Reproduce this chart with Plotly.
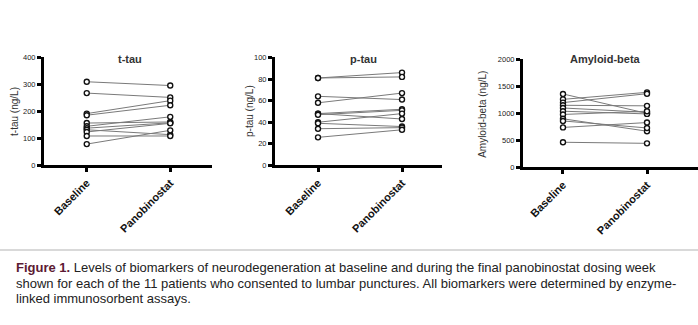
import plotly.graph_objects as go

W, H = 698, 325

categories = ["Baseline", "Panobinostat"]

# t-tau (ng/L), one entry per patient
ttau_baseline = [310, 268, 192, 186, 157, 145, 138, 132, 124, 109, 79]
ttau_panob = [296, 252, 240, 223, 161, 180, 158, 114, 156, 109, 130]

# p-tau (ng/L)
ptau_baseline = [81, 81, 64, 58, 48, 48, 47, 40, 39, 34, 26]
ptau_panob = [86, 82, 61, 67, 52, 43, 51, 48, 36, 35, 33]

# Amyloid-beta (ng/L)
abeta_baseline = [1360, 1260, 1200, 1150, 1100, 1040, 980, 900, 860, 740, 465]
abeta_panob = [1000, 1390, 1365, 1140, 1020, 990, 1040, 670, 730, 830, 445]

panels = [
    dict(title="t-tau", ytitle="t-tau (ng/L)", base=ttau_baseline, post=ttau_panob,
         ymax=400, dtick=100, px=(44, 212), py=(55, 166), xr=(-0.512, 1.5),
         title_x=130, ytitle_x=15, ytitle_y=110),
    dict(title="p-tau", ytitle="p-tau (ng/L)", base=ptau_baseline, post=ptau_panob,
         ymax=100, dtick=20, px=(275, 442), py=(55, 166), xr=(-0.512, 1.476),
         title_x=363, ytitle_x=250, ytitle_y=110),
    dict(title="Amyloid-beta", ytitle="Amyloid-beta (ng/L)", base=abeta_baseline, post=abeta_panob,
         ymax=2000, dtick=500, px=(523, 698), py=(57, 168), xr=(-0.476, 1.607),
         title_x=605, ytitle_x=483, ytitle_y=113),
]

fig = go.Figure()
FONT = "Arial, Liberation Sans, sans-serif"

def fx(p):
    return p / W

def fy(p):
    return 1 - p / H

annotations = []
for i, pnl in enumerate(panels):
    n = "" if i == 0 else str(i + 1)
    xa, ya = "x" + n, "y" + n
    for b, p in zip(pnl["base"], pnl["post"]):
        fig.add_trace(go.Scatter(
            x=[0, 1], y=[b, p], mode="lines+markers", xaxis=xa, yaxis=ya,
            line=dict(color="#7a7a7a", width=1),
            marker=dict(symbol="circle", size=5, color="white",
                        line=dict(color="#111111", width=1.4)),
            showlegend=False, cliponaxis=False, hoverinfo="skip",
        ))
    common = dict(showgrid=False, zeroline=False, showline=True, linecolor="black",
                  linewidth=3, ticks="outside", tickcolor="black")
    fig.update_layout(**{
        "xaxis" + n: dict(domain=[fx(pnl["px"][0]), fx(pnl["px"][1])], range=list(pnl["xr"]),
                          tickvals=[0, 1], ticktext=categories, tickangle=-45,
                          ticklen=4, tickwidth=2.5, anchor=ya,
                          tickfont=dict(family=FONT, size=11, color="#111111", weight="bold"),
                          **common),
        "yaxis" + n: dict(domain=[fy(pnl["py"][1]), fy(pnl["py"][0])], range=[0, pnl["ymax"]],
                          dtick=pnl["dtick"], ticklen=4, tickwidth=2.5, anchor=xa,
                          tickfont=dict(family=FONT, size=7.5, color="#222222"),
                          **common),
    })
    annotations.append(dict(text="<b>" + pnl["title"] + "</b>", x=fx(pnl["title_x"]), y=fy(57),
                             xref="paper", yref="paper", showarrow=False,
                             xanchor="center", yanchor="middle",
                             font=dict(family=FONT, size=11, color="#333333")))
    annotations.append(dict(text=pnl["ytitle"], x=fx(pnl["ytitle_x"]), y=fy(pnl["ytitle_y"]),
                            xref="paper", yref="paper", showarrow=False, textangle=-90,
                            xanchor="center", yanchor="middle",
                            font=dict(family=FONT, size=10, color="#333333")))

caption_lines = [
    "<span style='color:#5c1a33'><b>Figure 1.</b></span> Levels of biomarkers of neurodegeneration at baseline and during the final panobinostat dosing week",
    "shown for each of the 11 patients who consented to lumbar punctures. All biomarkers were determined by enzyme-",
    "linked immunosorbent assays.",
]
for k, line in enumerate(caption_lines):
    annotations.append(dict(text=line, x=fx(14), y=fy(271 + 16 * k), xref="paper", yref="paper",
                            showarrow=False, xanchor="left", yanchor="middle", align="left",
                            font=dict(family=FONT, size=13, color="#222222")))

fig.update_layout(
    width=W, height=H, margin=dict(l=0, r=0, t=0, b=0),
    paper_bgcolor="white", plot_bgcolor="white",
    annotations=annotations,
    shapes=[dict(type="line", xref="paper", yref="paper", x0=0, x1=1, y0=fy(253), y1=fy(253),
                 line=dict(color="#d9d9d9", width=2))],
)

fig.write_html("out.html")
